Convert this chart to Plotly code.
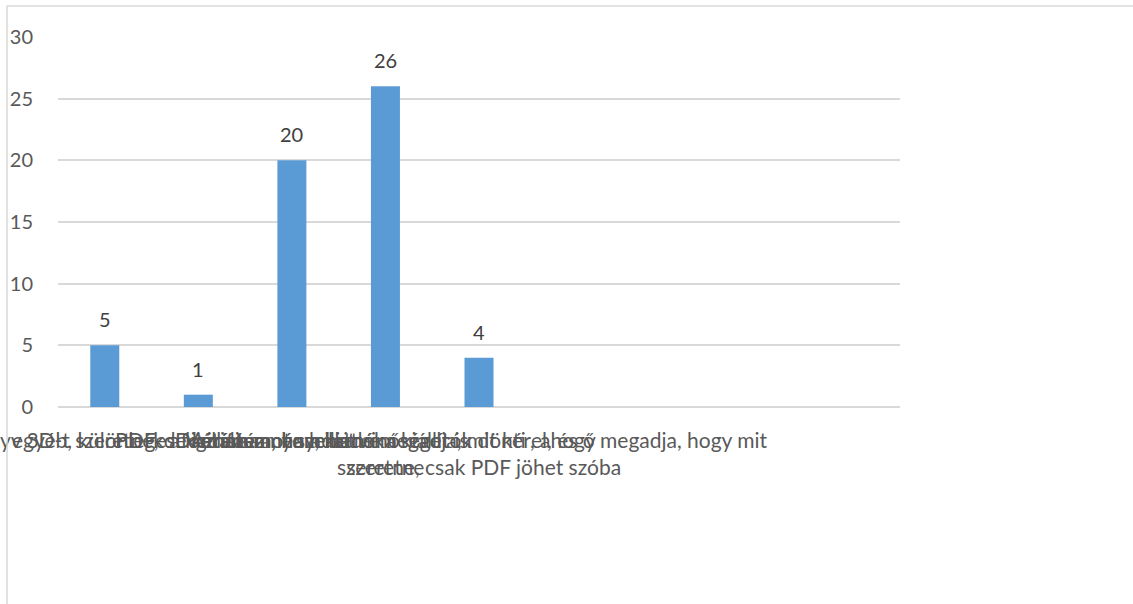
import plotly.graph_objects as go

categories = [
    "Nyomtatott könyv 3D-t szeretnék a kiállításra, ha lehet",
    "egyéb, különleges formátumot szeretnék",
    "PDF, de kérem a nyomdai minőséget is",
    "Digitálisan, ha a kiadó megadja, mit kér, ahogy<br>szeretne",
    "Az intézmény, illetve a kiállítók dönti el, és ő megadja, hogy mit<br>szeretne, csak PDF jöhet szóba",
    "", "", "", "",
]
values = [5, 1, 20, 26, 4, None, None, None, None]
y_ticks = [0, 5, 10, 15, 20, 25, 30]

xs = list(range(len(categories)))
font_family = "Lato, 'Open Sans', sans-serif"

fig = go.Figure()
fig.add_trace(go.Bar(
    x=xs, y=values,
    marker=dict(color="#5b9bd5", line=dict(width=0)),
    width=0.31,
    hoverinfo="skip",
))

for x, v in zip(xs, values):
    if v is not None:
        fig.add_annotation(
            x=x, y=v, text=str(v), showarrow=False,
            yanchor="bottom", yshift=12,
            font=dict(family=font_family, size=20, color="#404040"),
        )

W, H = 1133, 604
L, R, T, B = 58, 900, 37, 407

def px_x(px):
    return (px - L) / (R - L)

def px_y(py):
    return (B - py) / (B - T)

# chart-area border (top and left edges visible)
fig.add_shape(type="line", xref="paper", yref="paper",
              x0=px_x(7), x1=px_x(1140), y0=px_y(6), y1=px_y(6),
              line=dict(color="#d9d9d9", width=1.5))
fig.add_shape(type="line", xref="paper", yref="paper",
              x0=px_x(7), x1=px_x(7), y0=px_y(6), y1=px_y(610),
              line=dict(color="#d9d9d9", width=1.5))

fig.update_layout(
    width=W, height=H,
    margin=dict(l=L, r=W - R, t=T, b=H - B, autoexpand=False),
    plot_bgcolor="white", paper_bgcolor="white",
    showlegend=False,
    font=dict(family=font_family, size=20, color="#595959"),
    xaxis=dict(
        range=[-0.5, len(categories) - 0.5],
        tickmode="array", tickvals=xs, ticktext=categories,
        tickangle=0, showgrid=False, zeroline=False, showline=False,
        ticks="", ticklabelstandoff=19, automargin=False,
        ticklabeloverflow="allow",
        tickfont=dict(family=font_family, size=21, color="#595959"),
    ),
    yaxis=dict(
        range=[0, 30], tickvals=y_ticks,
        showgrid=True, gridcolor="#d9d9d9", gridwidth=1.5,
        zeroline=True, zerolinecolor="#d9d9d9", zerolinewidth=1.5,
        showline=False, ticks="", ticklabelstandoff=24, automargin=False,
        tickfont=dict(family=font_family, size=20, color="#595959"),
    ),
)

fig.write_html(
    "out.html",
    config={"displayModeBar": False},
    post_script="document.body.style.margin='0px';document.body.style.overflow='hidden';",
)
